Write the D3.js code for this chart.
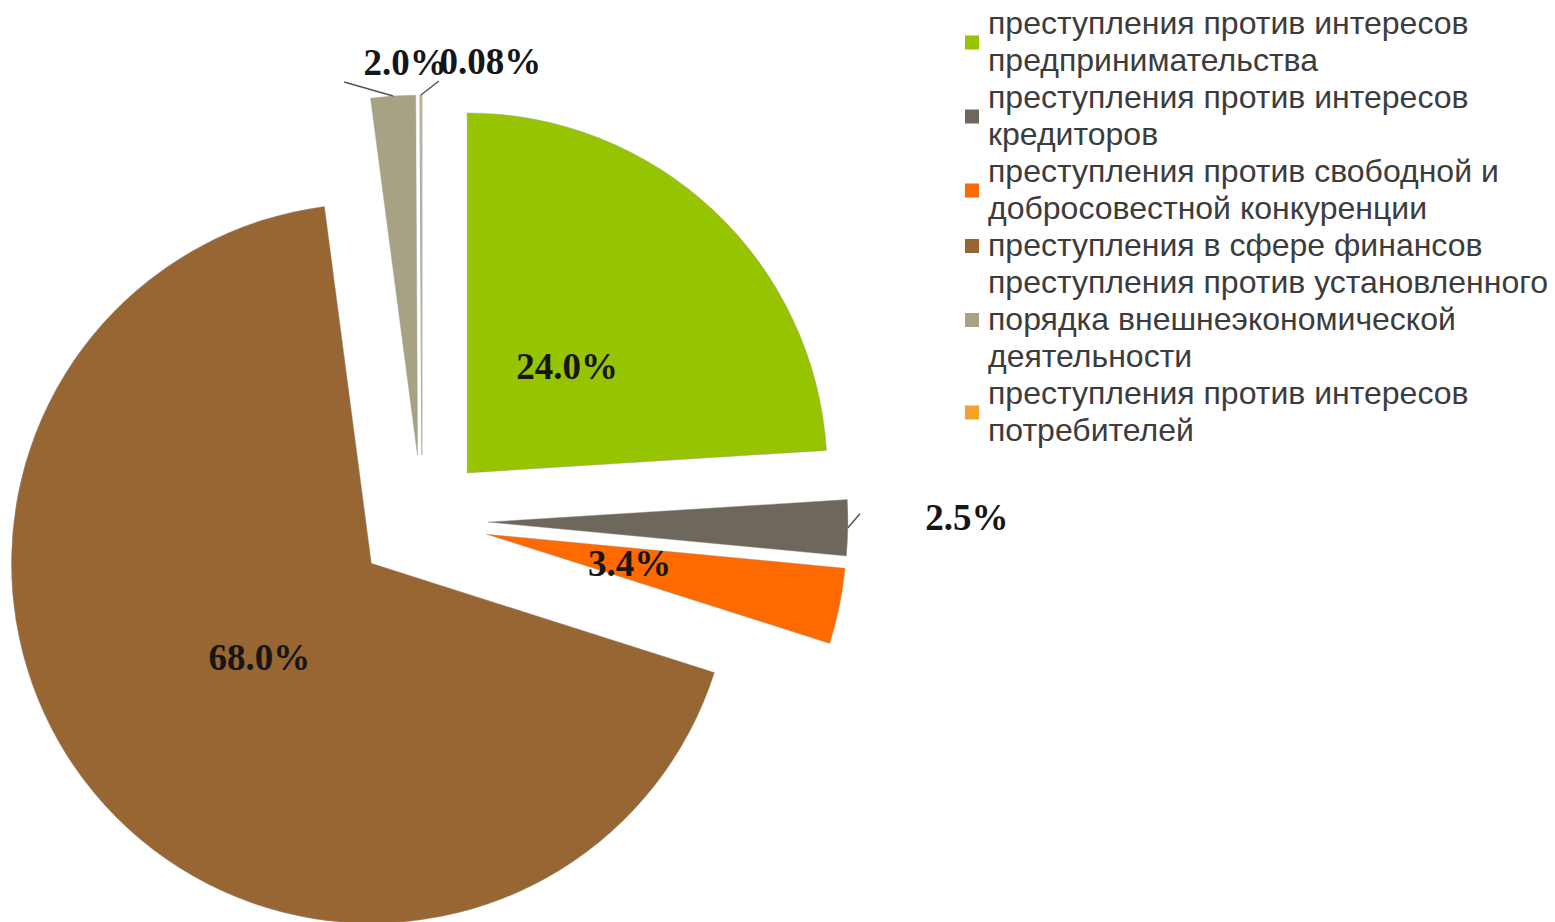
<!DOCTYPE html>
<html><head><meta charset="utf-8">
<script src="https://cdn.jsdelivr.net/npm/d3@7"></script>
<style>html,body{margin:0;padding:0;background:#fff;}svg{display:block;}</style>
</head><body>
<script>
// ---- data ----
const categories = [
  "преступления против интересов\nпредпринимательства",
  "преступления против интересов\nкредиторов",
  "преступления против свободной и\nдобросовестной конкуренции",
  "преступления в сфере финансов",
  "преступления против установленного\nпорядка внешнеэкономической\nдеятельности",
  "преступления против интересов\nпотребителей"
];
const values = [24.0, 2.5, 3.4, 68.0, 2.0, 0.08];
const valueLabels = ["24.0%", "2.5%", "3.4%", "68.0%", "2.0%", "0.08%"];
const colors = ["#96C400", "#6E685C", "#FF6A00", "#976633", "#A7A283", "#F2A22A"];

// ---- layout / style ----
const W = 1555, H = 922;
const cx = 422, cy = 521, R = 360, explode = 66, innerLabelR = 146;
// outside labels: polar position from slice apex [angleDeg, radius], leader end offset from arc mid
const outside = {
  1: {a: 89.5, r: 479, lead: [12, -14]},
  4: {a: 358.2, r: 393, lead: [-49, -14]},
  5: {a: 9.9, r: 399, lead: [18, -14]}
};

const svg = d3.select("body").append("svg").attr("width", W).attr("height", H);

const pie = d3.pie().sort(null).value(d => d)(values);
const arc = d3.arc().innerRadius(0).outerRadius(R);
const dir = a => [Math.sin(a), -Math.cos(a)];

const g = svg.append("g");
pie.forEach((p, i) => {
  const mid = (p.startAngle + p.endAngle) / 2;
  const [ux, uy] = dir(mid);
  const ax = cx + explode * ux, ay = cy + explode * uy;
  p.ax = ax; p.ay = ay; p.mid = mid;
  g.append("path")
    .attr("d", arc(p))
    .attr("transform", `translate(${ax},${ay})`)
    .attr("fill", colors[i])
    .attr("stroke", i === 5 ? "#b0b0b0" : "rgba(150,150,150,0.5)")
    .attr("stroke-width", i === 5 ? 1.2 : 0.8);
});

// labels
const lab = svg.append("g")
  .attr("font-family", "'Liberation Serif','Times New Roman',serif")
  .attr("font-weight", "bold").attr("font-size", 37).attr("fill", "#161616");
pie.forEach((p, i) => {
  let x, y;
  if (outside[i]) {
    const o = outside[i];
    const [ox, oy] = dir(o.a * Math.PI / 180);
    x = p.ax + o.r * ox; y = p.ay + o.r * oy;
    const [ux, uy] = dir(p.mid);
    const sx = p.ax + R * ux, sy = p.ay + R * uy;
    svg.append("line").attr("x1", sx).attr("y1", sy)
      .attr("x2", sx + o.lead[0]).attr("y2", sy + o.lead[1])
      .attr("stroke", "#555").attr("stroke-width", 1.5);
  } else {
    const [ux, uy] = dir(p.mid);
    x = p.ax + innerLabelR * ux; y = p.ay + innerLabelR * uy;
  }
  lab.append("text").attr("x", x).attr("y", y)
    .attr("text-anchor", "middle").attr("dominant-baseline", "central")
    .text(valueLabels[i]);
});

// legend
const lx = 988, ly0 = 34, lh = 37, ms = 14;
const leg = svg.append("g")
  .attr("font-family", "'Liberation Sans',Arial,sans-serif")
  .attr("font-size", 32).attr("fill", "#3c3c3c");
let line = 0;
categories.forEach((c, i) => {
  const lines = c.split("\n");
  const first = line;
  lines.forEach(t => {
    leg.append("text").attr("x", lx).attr("y", ly0 + line * lh).text(t);
    line++;
  });
  const meanBase = ly0 + (first + (lines.length - 1) / 2) * lh;
  leg.append("rect").attr("x", lx - 23).attr("y", meanBase - 10 - ms / 2)
    .attr("width", ms).attr("height", ms).attr("fill", colors[i]);
});
</script>
</body></html>
